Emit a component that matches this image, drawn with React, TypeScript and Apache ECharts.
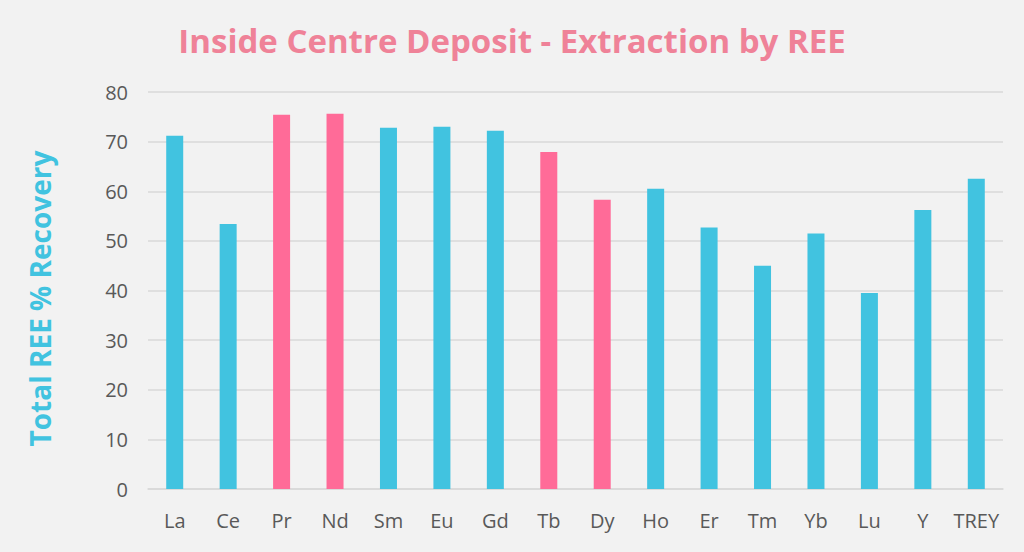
import React, { useEffect, useRef } from "react";
import * as echarts from "echarts";

const categories = ["La", "Ce", "Pr", "Nd", "Sm", "Eu", "Gd", "Tb", "Dy", "Ho", "Er", "Tm", "Yb", "Lu", "Y", "TREY"];
const recovery = [71.2, 53.4, 75.4, 75.6, 72.8, 73.0, 72.2, 67.9, 58.3, 60.5, 52.7, 45.0, 51.5, 39.5, 56.2, 62.5];
const highlighted = ["Pr", "Nd", "Tb", "Dy"];
const yTicks = [0, 10, 20, 30, 40, 50, 60, 70, 80];

const TEAL = "#41c3e0";
const PINK = "#ff6b98";

export default function App() {
  const ref = useRef<HTMLDivElement>(null);
  useEffect(() => {
    document.body.style.margin = "0";
    const chart = echarts.init(ref.current!, null, { renderer: "svg" });
    chart.setOption({
      animation: false,
      backgroundColor: "#f2f2f2",
      title: {
        text: "Inside Centre Deposit - Extraction by REE",
        left: "center",
        top: 19,
        textStyle: { fontFamily: "Open Sans", fontWeight: "bold", fontSize: 33, color: "#ef8298" },
      },
      grid: { left: 148, right: 21, top: 92, bottom: 63 },
      xAxis: {
        type: "category",
        data: categories,
        axisLine: { show: true, lineStyle: { color: "#d9d9d9", width: 1.5 } },
        axisTick: { show: false },
        axisLabel: { interval: 0, color: "#595959", fontFamily: "Open Sans", fontSize: 20, margin: 21 },
      },
      yAxis: {
        type: "value",
        min: yTicks[0],
        max: yTicks[yTicks.length - 1],
        interval: 10,
        name: "Total REE % Recovery",
        nameLocation: "middle",
        nameGap: 94,
        nameTextStyle: {
          color: TEAL,
          fontFamily: "Open Sans",
          fontWeight: "bold",
          fontSize: 28,
          padding: [0, 16, 0, 0],
        },
        axisLine: { show: false },
        axisTick: { show: false },
        splitLine: { lineStyle: { color: "#d9d9d9", width: 1.5 } },
        axisLabel: { color: "#595959", fontFamily: "Open Sans", fontSize: 20, margin: 20 },
      },
      series: [
        {
          type: "bar",
          barWidth: 17,
          data: recovery.map((v, i) => ({
            value: v,
            itemStyle: { color: highlighted.includes(categories[i]) ? PINK : TEAL },
          })),
        },
      ],
    });
    return () => chart.dispose();
  }, []);
  return <div ref={ref} style={{ width: 1024, height: 552 }} />;
}
